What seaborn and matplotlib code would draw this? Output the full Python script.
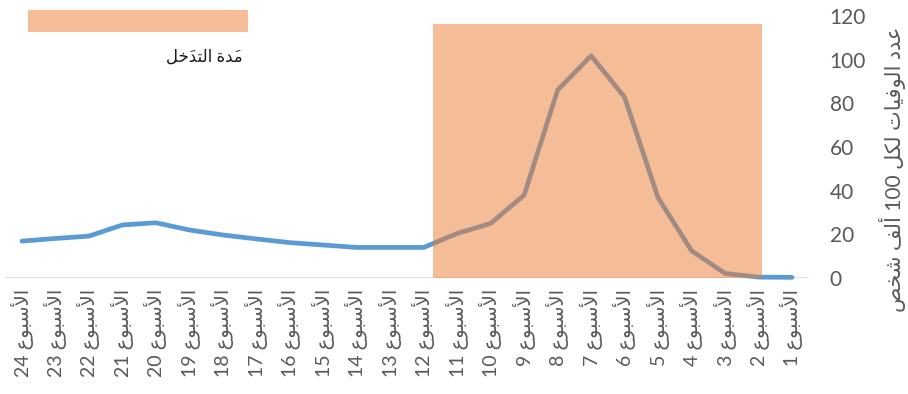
import numpy as np
import pandas as pd
import matplotlib
matplotlib.use("Agg")
import matplotlib.pyplot as plt
from matplotlib.patches import Rectangle
import seaborn as sns

# ---- data -------------------------------------------------------------
weeks = list(range(24, 0, -1))
deaths = [16.9, 18.1, 19.2, 24.3, 25.3, 22.0, 19.7, 17.9, 16.2, 15.1, 14.0, 14.0,
          14.0, 20.4, 25.0, 38.0, 86.1, 101.8, 82.8, 36.8, 12.5, 2.1, 0.4, 0.3]
week_word = "الأسبوع"
y_title = "عدد الوفيات لكل 100 ألف شخص"
band_label = "مدَة التدخَل"
y_ticks = [0, 20, 40, 60, 80, 100, 120]

# intervention band, in category units along the x axis
band_left = 12.28
band_right = 22.10
band_top = 116.3

# ---- minimal Arabic shaping (presentation forms + visual order) -------
FORMS = {
    "ا": ("\uFE8D", "\uFE8E", None, None),
    "أ": ("\uFE83", "\uFE84", None, None),
    "ب": ("\uFE8F", "\uFE90", "\uFE91", "\uFE92"),
    "ة": ("\uFE93", "\uFE94", None, None),
    "ت": ("\uFE95", "\uFE96", "\uFE97", "\uFE98"),
    "خ": ("\uFEA5", "\uFEA6", "\uFEA7", "\uFEA8"),
    "د": ("\uFEA9", "\uFEAA", None, None),
    "س": ("\uFEB1", "\uFEB2", "\uFEB3", "\uFEB4"),
    "ش": ("\uFEB5", "\uFEB6", "\uFEB7", "\uFEB8"),
    "ص": ("\uFEB9", "\uFEBA", "\uFEBB", "\uFEBC"),
    "ع": ("\uFEC9", "\uFECA", "\uFECB", "\uFECC"),
    "ف": ("\uFED1", "\uFED2", "\uFED3", "\uFED4"),
    "ك": ("\uFED9", "\uFEDA", "\uFEDB", "\uFEDC"),
    "ل": ("\uFEDD", "\uFEDE", "\uFEDF", "\uFEE0"),
    "م": ("\uFEE1", "\uFEE2", "\uFEE3", "\uFEE4"),
    "و": ("\uFEED", "\uFEEE", None, None),
    "ي": ("\uFEF1", "\uFEF2", "\uFEF3", "\uFEF4"),
}
LAM_ALEF = {"ا": ("\uFEFB", "\uFEFC"), "أ": ("\uFEF7", "\uFEF8")}
MARKS = {"\u064E", "\u0651"}


def shape_word(word):
    clusters = []
    for ch in word:
        if ch in MARKS and clusters:
            clusters[-1]["marks"] += ch
        else:
            clusters.append({"base": ch, "marks": "", "lig": None})
    merged = []
    i = 0
    while i < len(clusters):
        c = clusters[i]
        if c["base"] == "ل" and i + 1 < len(clusters) and clusters[i + 1]["base"] in LAM_ALEF:
            nxt = clusters[i + 1]
            merged.append({"base": "ل", "marks": c["marks"] + nxt["marks"], "lig": nxt["base"]})
            i += 2
        else:
            merged.append(c)
            i += 1

    def joins_left(c):
        return c["lig"] is None and c["base"] in FORMS and FORMS[c["base"]][2] is not None

    def joins_right(c):
        return c["base"] in FORMS

    out = []
    n = len(merged)
    for i, c in enumerate(merged):
        prev = i > 0 and joins_left(merged[i - 1]) and joins_right(c)
        nxt = i < n - 1 and joins_left(c) and joins_right(merged[i + 1])
        if c["lig"] is not None:
            g = LAM_ALEF[c["lig"]][1 if prev else 0]
        elif c["base"] in FORMS:
            iso, fin, ini, med = FORMS[c["base"]]
            g = med if (prev and nxt) else fin if prev else ini if nxt else iso
        else:
            g = c["base"]
        out.append(g + c["marks"])
    return "".join(reversed(out))


def rtl(text):
    tokens = text.split(" ")
    shaped = [shape_word(t) if any(ch in FORMS for ch in t) else t for t in reversed(tokens)]
    return " ".join(shaped)


# ---- figure ----------------------------------------------------------
sns.set_theme(style="white")
plt.rcParams["font.family"] = ["Lato", "DejaVu Sans"]

W, H = 908, 394
fig = plt.figure(figsize=(W / 100, H / 100), dpi=100)
ax = fig.add_axes([5.3 / W, 116 / H, (808.7 - 5.3) / W, (278 - 16) / H])

df = pd.DataFrame({"pos": np.arange(len(weeks)), "deaths": deaths})
sns.lineplot(data=df, x="pos", y="deaths", ax=ax, color="#5B9BD5", linewidth=3.4,
             solid_capstyle="round", solid_joinstyle="round", zorder=3, clip_on=False)

ax.axhline(0, color="#D9D9D9", linewidth=1.2, zorder=2)
ax.add_patch(Rectangle((band_left, 0), band_right - band_left, band_top,
                       facecolor="#ED7D31", alpha=0.5, linewidth=0, zorder=5))

ax.set_xlim(-0.5, len(weeks) - 0.5)
ax.set_ylim(0, 120)
for s in ax.spines.values():
    s.set_visible(False)

ax.set_xticks(np.arange(len(weeks)))
ax.set_xticklabels([rtl(f"{week_word} {w}") for w in weeks], rotation=90,
                   ha="center", va="top", fontsize=14, color="#595959")
ax.yaxis.tick_right()
ax.set_yticks(y_ticks)
ax.set_yticklabels([str(v) for v in y_ticks])
ax.tick_params(axis="y", length=0, pad=15, labelsize=15, labelcolor="#595959")
ax.tick_params(axis="x", length=0, pad=8)
ax.set_xlabel("")
ax.set_ylabel("")

# legend: swatch with its caption underneath
fig.patches.append(Rectangle((28 / W, 1 - 32 / H), 220 / W, 22 / H, transform=fig.transFigure,
                             facecolor="#ED7D31", alpha=0.5, linewidth=0))
fig.text(243 / W, 1 - 57 / H, rtl(band_label), ha="right", va="center",
         fontsize=12, color="#1a1a1a")

fig.text(893 / W, 1 - 169 / H, rtl(y_title), rotation=90, ha="center", va="center",
         fontsize=15, color="#595959")

fig.savefig("out.png", dpi=100)
